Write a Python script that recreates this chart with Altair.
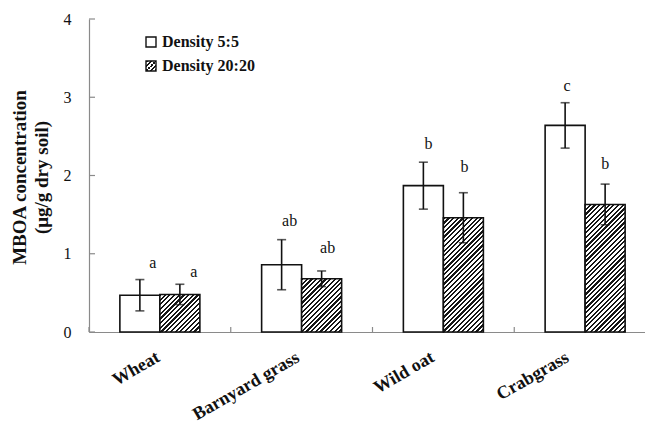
import altair as alt
import pandas as pd

# ---------------- data ----------------
categories = ["Wheat", "Barnyard grass", "Wild oat", "Crabgrass"]
series = ["Density 5:5", "Density 20:20"]
mean_55 = [0.47, 0.86, 1.87, 2.64]
err_55 = [0.20, 0.32, 0.30, 0.29]
mean_2020 = [0.48, 0.68, 1.46, 1.63]
err_2020 = [0.13, 0.10, 0.32, 0.26]
letters_55 = ["a", "ab", "b", "c"]
letters_2020 = ["a", "ab", "b", "b"]
label_y_55 = [0.88, 1.42, 2.40, 3.14]
label_y_2020 = [0.77, 1.07, 2.11, 2.15]
label_dx_55 = [13, 8, 5, 2]
label_dx_2020 = [14, 6, 1, 0]
y_ticks = [0, 1, 2, 3, 4]
y_title = ["MBOA concentration", "(\u03bcg/g dry soil)"]

# ---------------- layout ----------------
W, H = 556, 313
X_RANGE = 567
PAD = {"left": 89, "top": 19, "right": 0, "bottom": 94}
Y_MAX = 4
PX_PER_UNIT = H / Y_MAX
BAR_W = 40
FONT = "Liberation Serif"
AXIS_GREY = "#8a8a8a"
X_LABEL_NUDGE = [-6, -8, -15, -22]

rows = []
for i, c in enumerate(categories):
    rows.append(dict(cat=c, series=series[0], mean=mean_55[i],
                     lo=mean_55[i] - err_55[i], hi=mean_55[i] + err_55[i],
                     letter=letters_55[i], ly=label_y_55[i], dx=label_dx_55[i]))
    rows.append(dict(cat=c, series=series[1], mean=mean_2020[i],
                     lo=mean_2020[i] - err_2020[i], hi=mean_2020[i] + err_2020[i],
                     letter=letters_2020[i], ly=label_y_2020[i], dx=label_dx_2020[i]))
df = pd.DataFrame(rows)


def hatch(w, h, p=4.7, d=2.2, dark="#161616", light="#ffffff"):
    """Linear gradient with sharp stops that looks like '/' hatching."""
    L = w + h
    stops = []
    k = 0
    while k * p < L:
        a = k * p / L
        b = min((k * p + d) / L, 1.0)
        c = min((k + 1) * p / L, 1.0)
        stops += [{"offset": a, "color": dark}, {"offset": b, "color": dark},
                  {"offset": b, "color": light}, {"offset": c, "color": light}]
        k += 1
    s = (w + h) / (w * w + h * h)
    return {"gradient": "linear", "x1": 0, "y1": 0, "x2": w * s, "y2": h * s,
            "stops": stops}


x_scale = alt.Scale(domain=categories, range=[0, X_RANGE], paddingInner=0, paddingOuter=0)
off_pad = (X_RANGE / 4 / BAR_W - 2) / 2
xo_scale = alt.Scale(domain=series, paddingInner=0, paddingOuter=off_pad)
y_scale = alt.Scale(domain=[0, Y_MAX], nice=False)

label_offset = {
    "condition": [{"test": f"datum.value === '{c}'", "value": X_LABEL_NUDGE[i]}
                  for i, c in enumerate(categories[1:], start=1)],
    "value": X_LABEL_NUDGE[0],
}

x_axis = alt.Axis(title=None, ticks=False, domainColor=AXIS_GREY, domainWidth=1.2,
                  labelAngle=-30, labelAlign="right", labelBaseline="top",
                  labelFont=FONT, labelFontWeight="bold", labelFontSize=18,
                  labelColor="#111", labelPadding=16, labelOffset=label_offset)
y_axis = alt.Axis(title=y_title, values=y_ticks, format="d", ticks=False, grid=False,
                  domainColor=AXIS_GREY, domainWidth=1.2,
                  labelFont=FONT, labelFontSize=16, labelColor="#111", labelPadding=18,
                  titleFont=FONT, titleFontWeight="bold", titleFontSize=19,
                  titleColor="#111", titleLineHeight=22, titleBaseline="alphabetic",
                  titleAlign="center", titleX=-64, titleY=158, titleAngle=270)

X = alt.X("cat:N", scale=x_scale, axis=x_axis, sort=categories)
XO = alt.XOffset("series:N", scale=xo_scale, sort=series)

base = alt.Chart(df)

white_bars = base.transform_filter(alt.datum.series == series[0]).mark_bar(
    fill="white", stroke="#111", strokeWidth=1.6).encode(
    x=X, xOffset=XO, y=alt.Y("mean:Q", scale=y_scale, axis=y_axis))

layers = [white_bars]
for i, c in enumerate(categories):
    h = mean_2020[i] * PX_PER_UNIT
    layers.append(
        base.transform_filter((alt.datum.series == series[1]) & (alt.datum.cat == c))
        .mark_bar(fill=hatch(BAR_W, h), stroke="#111", strokeWidth=1.6)
        .encode(x=X, xOffset=XO, y=alt.Y("mean:Q", scale=y_scale))
    )

err_rule = base.mark_rule(color="#111", strokeWidth=1.6).encode(
    x=X, xOffset=XO, y=alt.Y("lo:Q", scale=y_scale), y2="hi:Q")
cap_lo = base.mark_tick(color="#111", size=9, thickness=1.6, orient="horizontal").encode(
    x=X, xOffset=XO, y=alt.Y("lo:Q", scale=y_scale))
cap_hi = base.mark_tick(color="#111", size=9, thickness=1.6, orient="horizontal").encode(
    x=X, xOffset=XO, y=alt.Y("hi:Q", scale=y_scale))
layers += [err_rule, cap_lo, cap_hi]

for i, r in df.iterrows():
    layers.append(
        alt.Chart(df.iloc[[i]]).mark_text(font=FONT, fontSize=16, color="#111",
                                          baseline="middle", dx=float(r["dx"]))
        .encode(x=X, xOffset=XO, y=alt.Y("ly:Q", scale=y_scale), text="letter:N")
    )

# inward axis ticks
ytick_df = pd.DataFrame({"v": y_ticks})
layers.append(alt.Chart(ytick_df).mark_rule(color=AXIS_GREY, strokeWidth=1.2).encode(
    y=alt.Y("v:Q", scale=y_scale), x=alt.value(0), x2=alt.value(6)))
xtick_df = pd.DataFrame({"cat": categories})
layers.append(alt.Chart(xtick_df).mark_rule(color=AXIS_GREY, strokeWidth=1.2).encode(
    x=alt.X("cat:N", scale=x_scale, sort=categories, bandPosition=0),
    y=alt.value(H - 5), y2=alt.value(H)))

# legend
leg_df = pd.DataFrame({"t": [series[0]]})
leg_df2 = pd.DataFrame({"t": [series[1]]})
layers.append(alt.Chart(leg_df).mark_rect(fill="white", stroke="#111", strokeWidth=1.4).encode(
    x=alt.value(57), x2=alt.value(67), y=alt.value(18), y2=alt.value(28)))
layers.append(alt.Chart(leg_df2).mark_rect(fill=hatch(10, 10, p=4.5, d=2.0), stroke="#111",
                                           strokeWidth=1.4).encode(
    x=alt.value(57), x2=alt.value(67), y=alt.value(42), y2=alt.value(52)))
layers.append(alt.Chart(leg_df).mark_text(font=FONT, fontWeight="bold", fontSize=16,
                                          align="left", baseline="middle", color="#111").encode(
    x=alt.value(73), y=alt.value(23), text="t:N"))
layers.append(alt.Chart(leg_df2).mark_text(font=FONT, fontWeight="bold", fontSize=16,
                                           align="left", baseline="middle", color="#111").encode(
    x=alt.value(73), y=alt.value(47), text="t:N"))

chart = alt.layer(*layers).properties(
    width=W, height=H,
    autosize=alt.AutoSizeParams(type="none"),
    padding=PAD,
    background="white",
).configure_view(stroke=None)

chart.save("out.html", embed_options={"renderer": "svg", "actions": False})
